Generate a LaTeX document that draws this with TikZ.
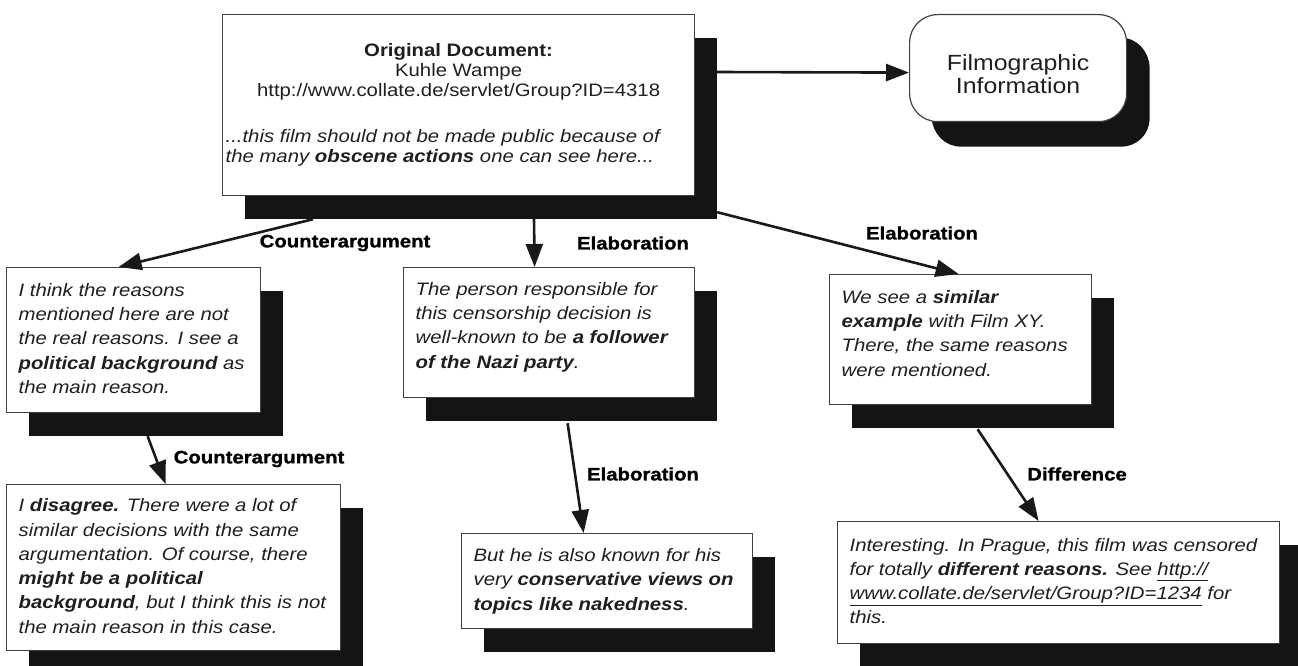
\documentclass[tikz,border=0pt]{standalone}
\usepackage{fontspec}
\setmainfont{Liberation Sans}[FakeStretch=1.13]
\newfontfamily\lblfont{Liberation Sans}[FakeStretch=1.13,UprightFont=*-Bold,UprightFeatures={FakeBold=1.2}]
\usetikzlibrary{arrows.meta,shadows}
\newcommand\boxlines[2]{\makebox[#1][l]{\begin{tabular}{@{}l@{}}#2\end{tabular}}}
\newcommand\pushup[1]{\rule[-#1]{0pt}{#1}}
\begin{document}
\begin{tikzpicture}[x=1pt,y=1pt,
  boxshadow/.style={drop shadow={shadow xshift=22pt,shadow yshift=-23pt,opacity=1,fill=black!92}},
  box/.style={draw=black!75,line width=1.2pt,fill=white,anchor=north west,inner sep=0pt,
    font=\fontsize{18}{24.3}\selectfont\itshape,text=black!88,boxshadow},
  lbl/.style={font=\fontsize{18}{20}\selectfont\lblfont,text=black},
  arr/.style={line width=2.6pt,draw=black!90,-{Triangle[length=23pt,width=17pt]}}]
\useasboundingbox (0,0) rectangle (1298,-666);
\clip (0,0) rectangle (1298,-666);

% top document
\node[box,minimum width=472,minimum height=181,align=center,
  font=\fontsize{18}{20}\selectfont\upshape] (orig) at (222,-14)
  {\textbf{Original Document:}\\ Kuhle Wampe\\ http://www.collate.de/servlet/Group?ID=4318\\[26pt]
   \makebox[466pt][l]{\itshape ...this film should not be made public because of}\\
   \makebox[466pt][l]{\itshape the many \textbf{obscene actions} one can see here...}};

% filmographic information
\node[box,rounded corners=28pt,minimum width=217,minimum height=107,align=center,
  font=\fontsize{22}{23}\selectfont\upshape,
  drop shadow={shadow xshift=23pt,shadow yshift=-25pt,opacity=1,fill=black!92}] (film) at (909,-14)
  {\rule{0pt}{28pt}Filmographic\\ Information};

% replies
\node[box,minimum width=254,minimum height=145] (l1) at (6,-267)
  {\boxlines{230pt}{I think the reasons\\ mentioned here are not\\ the real reasons. I see a\\ \textbf{political background} as\\ the main reason.}};
\node[box,minimum width=334,minimum height=166] (l2) at (6,-484)
  {\boxlines{310pt}{I \textbf{disagree.} There were a lot of\\ similar decisions with the same\\ argumentation. Of course, there\\ \textbf{might be a political}\\ \textbf{background}, but I think this is not\\ the main reason in this case.}};
\node[box,minimum width=291,minimum height=130] (m1) at (403,-267)
  {\boxlines{267pt}{The person responsible for\\ this censorship decision is\\ well-known to be \textbf{a follower}\\ \textbf{of the Nazi party}.\pushup{19pt}}};
\node[box,minimum width=291,minimum height=95] (m2) at (461,-533)
  {\boxlines{267pt}{But he is also known for his\\ very \textbf{conservative views on}\\ \textbf{topics like nakedness}.}};
\node[box,minimum width=262,minimum height=130] (r1) at (829,-274)
  {\boxlines{238pt}{We see a \textbf{similar}\\ \textbf{example} with Film XY.\\ There, the same reasons\\ were mentioned.\pushup{17pt}}};
\node[box,minimum width=442,minimum height=122] (r2) at (837,-521)
  {\boxlines{418pt}{Interesting. In Prague, this film was censored\\ for totally \textbf{different reasons.} See \underline{http://}\\ \underline{www.collate.de/servlet/Group?ID=1234} for\\ this.}};

% relation labels
\node[lbl] (c1) at (345,-243) {Counterargument};
\node[lbl] (e1) at (633,-243) {Elaboration};
\node[lbl] (e2) at (922,-233) {Elaboration};
\node[lbl] (c2) at (259,-459) {Counterargument};
\node[lbl] (e3) at (643,-474) {Elaboration};
\node[lbl] (d1) at (1077,-474) {Difference};

% connectors
\draw[arr] ([shift={(22,-58)}]orig.north east) -- ([yshift=-4.5]film.west);
\draw[arr] ([shift={(91,-23)}]orig.south west) -- ([xshift=-15]l1.north);
\draw[arr] ([shift={(312,-23)}]orig.south west) -- ([xshift=-14.5]m1.north);
\draw[arr] ([shift={(22,-16)}]orig.south east) -- ([xshift=-2]r1.north);
\draw[arr] ([shift={(14,-23)}]l1.south) -- ([xshift=-8]l2.north);
\draw[arr] ([shift={(18.5,-25)}]m1.south) -- ([xshift=-23.5]m2.north);
\draw[arr] ([shift={(17,-24)}]r1.south) -- ([xshift=-20]r2.north);
\end{tikzpicture}
\end{document}
